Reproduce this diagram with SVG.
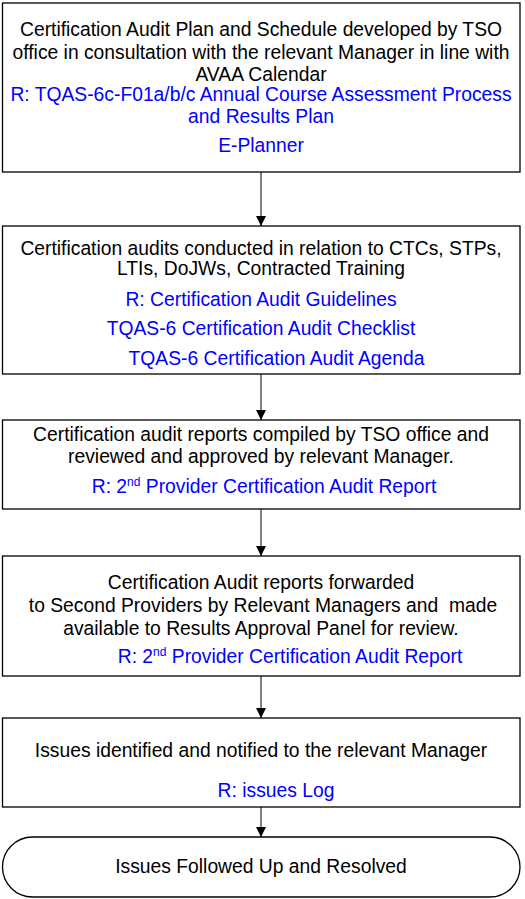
<svg xmlns="http://www.w3.org/2000/svg" width="525" height="899" viewBox="0 0 525 899">
<defs>
<marker id="ah" markerWidth="10" markerHeight="10" refX="10" refY="5" orient="auto" markerUnits="userSpaceOnUse">
<path d="M0,0 L10,5 L0,10 Z" fill="#000"/>
</marker>
<style>
.box{fill:#fff;stroke:#000;stroke-width:1.3}
text{font-family:"Liberation Sans",Arial,sans-serif;font-size:19.3px;text-anchor:middle;fill:#000}
.r{fill:#0000ff}
.sup{font-size:12px}
.con{stroke:#000;stroke-width:1;fill:none;marker-end:url(#ah)}
</style>
</defs>
<g id="connectors">
<line class="con" x1="261" y1="172" x2="261" y2="226"/>
<line class="con" x1="261" y1="374" x2="261" y2="420"/>
<line class="con" x1="261" y1="509" x2="261" y2="556"/>
<line class="con" x1="261" y1="676" x2="261" y2="718"/>
<line class="con" x1="261" y1="807" x2="261" y2="837"/>
</g>
<g id="n1">
<rect class="box" x="2.5" y="3" width="517.5" height="169"/>
<text x="261" y="36">Certification Audit Plan and Schedule developed by TSO</text>
<text x="261" y="58.5">office in consultation with the relevant Manager in line with</text>
<text x="261" y="81">AVAA Calendar</text>
<text class="r" x="261" y="101">R: TQAS-6c-F01a/b/c Annual Course Assessment Process</text>
<text class="r" x="261" y="123">and Results Plan</text>
<text class="r" x="261" y="152">E-Planner</text>
</g>
<g id="n2">
<rect class="box" x="2.5" y="226" width="517.5" height="148"/>
<text x="261" y="255">Certification audits conducted in relation to CTCs, STPs,</text>
<text x="261" y="275">LTIs, DoJWs, Contracted Training</text>
<text class="r" x="261" y="306">R: Certification Audit Guidelines</text>
<text class="r" x="261" y="335">TQAS-6 Certification Audit Checklist</text>
<text class="r" x="276.5" y="365">TQAS-6 Certification Audit Agenda</text>
</g>
<g id="n3">
<rect class="box" x="2.5" y="420" width="517.5" height="89"/>
<text x="261" y="441">Certification audit reports compiled by TSO office and</text>
<text x="261" y="463">reviewed and approved by relevant Manager.</text>
<text class="r" x="264" y="493">R: 2<tspan class="sup" dy="-7">nd</tspan><tspan dy="7"> Provider Certification Audit Report</tspan></text>
</g>
<g id="n4">
<rect class="box" x="2.5" y="556" width="517.5" height="120"/>
<text x="261" y="589">Certification Audit reports forwarded</text>
<text x="263" y="612" xml:space="preserve">to Second Providers by Relevant Managers and  made</text>
<text x="261" y="635">available to Results Approval Panel for review.</text>
<text class="r" x="290" y="663">R: 2<tspan class="sup" dy="-7">nd</tspan><tspan dy="7"> Provider Certification Audit Report</tspan></text>
</g>
<g id="n5">
<rect class="box" x="2.5" y="718" width="517.5" height="89"/>
<text x="261" y="757">Issues identified and notified to the relevant Manager</text>
<text class="r" x="276" y="797">R: issues Log</text>
</g>
<g id="n6">
<rect class="box" x="2.5" y="837" width="517.5" height="60" rx="30" ry="30"/>
<text x="261" y="873">Issues Followed Up and Resolved</text>
</g>
</svg>
